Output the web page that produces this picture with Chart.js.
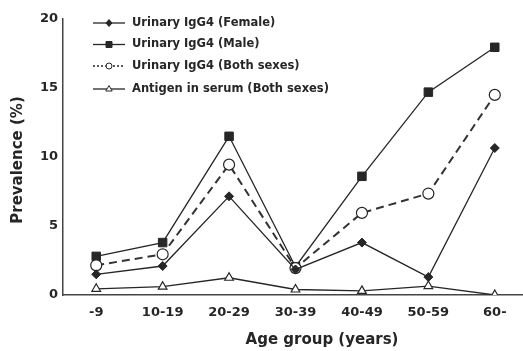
<!DOCTYPE html>
<html>
<head>
<meta charset="utf-8">
<script src="https://cdn.jsdelivr.net/npm/chart.js@4"></script>
<style>
  html, body { margin: 0; padding: 0; background: #fff; overflow: hidden; }
  #wrap { width: 523px; height: 351px; overflow: hidden; position: relative; }
  #chart { position: absolute; left: 0; top: 0; }
</style>
</head>
<body>
<div id="wrap"><canvas id="chart" width="535" height="351" style="width:535px;height:351px"></canvas></div>
<script>
const ageGroups = ['-9', '10-19', '20-29', '30-39', '40-49', '50-59', '60-'];
const femaleIgG4 = [1.5, 2.1, 7.15, 1.85, 3.8, 1.3, 10.65];
const maleIgG4 = [2.8, 3.8, 11.5, 2.05, 8.6, 14.7, 17.95];
const bothIgG4 = [2.15, 2.95, 9.45, 1.95, 5.95, 7.35, 14.5];
const serumAntigen = [0.45, 0.6, 1.25, 0.4, 0.3, 0.65, 0];
const yTicks = [0, 5, 10, 15, 20];

const legendLabels = [
    'Urinary IgG4 (Female)',
    'Urinary IgG4 (Male)',
    'Urinary IgG4 (Both sexes)',
    'Antigen in serum (Both sexes)'
];

const ink = '#262626';
const fontFamily = '"DejaVu Sans", sans-serif';

// legend + axis titles drawn by hand to match the scan
const extrasPlugin = {
    id: 'extras',
    afterDraw(chart) {
        const ctx = chart.ctx;
        ctx.save();
        ctx.fillStyle = ink;
        ctx.textBaseline = 'middle';

        // legend
        const rows = [23, 44.5, 66, 89];
        const legendMarks = [
            { style: 'diamond', fill: ink, dash: [] },
            { style: 'square', fill: ink, dash: [] },
            { style: 'circle', fill: '#fff', dash: [2, 2] },
            { style: 'triangle', fill: '#fff', dash: [] }
        ];
        ctx.font = 'bold 11.5px ' + fontFamily;
        legendLabels.forEach(function (label, i) {
            const y = rows[i];
            const m = legendMarks[i];
            ctx.strokeStyle = ink;
            ctx.lineWidth = 1.3;
            ctx.setLineDash(m.dash);
            ctx.beginPath();
            ctx.moveTo(93, y);
            ctx.lineTo(125, y);
            ctx.stroke();
            ctx.setLineDash([]);
            ctx.beginPath();
            const cx = 109;
            if (m.style === 'diamond') {
                ctx.moveTo(cx, y - 3.5); ctx.lineTo(cx + 3, y); ctx.lineTo(cx, y + 3.5); ctx.lineTo(cx - 3, y); ctx.closePath();
            } else if (m.style === 'square') {
                ctx.rect(cx - 3, y - 3, 6, 6);
            } else if (m.style === 'circle') {
                ctx.arc(cx, y, 3, 0, Math.PI * 2);
            } else {
                ctx.moveTo(cx, y - 3.5); ctx.lineTo(cx + 3.2, y + 2); ctx.lineTo(cx - 3.2, y + 2); ctx.closePath();
            }
            ctx.fillStyle = m.fill;
            ctx.fill();
            ctx.lineWidth = 1;
            ctx.stroke();
            ctx.fillStyle = ink;
            ctx.textAlign = 'left';
            ctx.fillText(label, 132, y);
        });

        // axis titles
        ctx.font = 'bold 15px ' + fontFamily;
        ctx.textAlign = 'center';
        ctx.fillText('Age group (years)', 322, 340);
        ctx.translate(18, 160);
        ctx.rotate(-Math.PI / 2);
        ctx.fillText('Prevalence (%)', 0, 0);
        ctx.restore();
    }
};

const ctx = document.getElementById('chart').getContext('2d');
new Chart(ctx, {
    type: 'line',
    data: {
        labels: ageGroups,
        datasets: [
            {
                label: legendLabels[3],
                data: serumAntigen,
                borderColor: ink,
                borderWidth: 1.3,
                pointStyle: 'triangle',
                pointRadius: 5,
                pointBackgroundColor: '#fff',
                pointBorderColor: ink,
                pointBorderWidth: 1.2
            },
            {
                label: legendLabels[0],
                data: femaleIgG4,
                borderColor: ink,
                borderWidth: 1.3,
                pointStyle: 'rectRot',
                pointRadius: 4.5,
                pointBackgroundColor: ink,
                pointBorderColor: ink,
                pointBorderWidth: 1
            },
            {
                label: legendLabels[2],
                data: bothIgG4,
                borderColor: '#333',
                borderWidth: 2,
                borderDash: [8, 5],
                pointStyle: 'circle',
                pointRadius: 5.5,
                pointBackgroundColor: '#fff',
                pointBorderColor: ink,
                pointBorderWidth: 1.2
            },
            {
                label: legendLabels[1],
                data: maleIgG4,
                borderColor: ink,
                borderWidth: 1.3,
                pointStyle: 'rect',
                pointRadius: 6,
                pointBackgroundColor: ink,
                pointBorderColor: ink,
                pointBorderWidth: 1
            }
        ]
    },
    options: {
        responsive: false,
        animation: false,
        devicePixelRatio: 1,
        layout: { padding: { top: 19, right: 0, bottom: 0, left: 0 } },
        plugins: {
            legend: { display: false },
            tooltip: { enabled: false }
        },
        scales: {
            x: {
                type: 'category',
                offset: true,
                grid: { display: false, drawTicks: false },
                border: { display: true, color: '#444', width: 1.5 },
                ticks: {
                    color: ink,
                    padding: 10,
                    font: { family: fontFamily, size: 13, weight: 'bold' },
                    maxRotation: 0
                },
                afterFit: function (scale) { scale.height = 56; }
            },
            y: {
                min: 0,
                max: 20,
                grid: { display: false, drawTicks: false },
                border: { display: true, color: '#444', width: 1.5 },
                afterBuildTicks: function (scale) {
                    scale.ticks = yTicks.map(function (v) { return { value: v }; });
                },
                ticks: {
                    color: ink,
                    padding: 5,
                    font: { family: fontFamily, size: 13, weight: 'bold' }
                },
                afterFit: function (scale) { scale.width = 63; }
            }
        }
    },
    plugins: [extrasPlugin]
});
</script>
</body>
</html>
